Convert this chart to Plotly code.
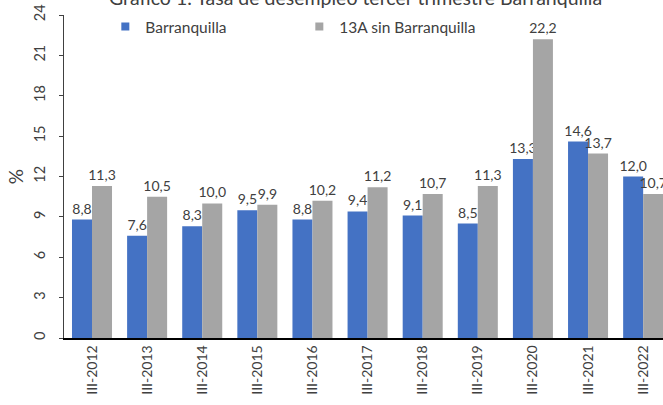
import plotly.graph_objects as go

categories = ["III-2012", "III-2013", "III-2014", "III-2015", "III-2016", "III-2017",
              "III-2018", "III-2019", "III-2020", "III-2021", "III-2022"]
barranquilla = [8.8, 7.6, 8.3, 9.5, 8.8, 9.4, 9.1, 8.5, 13.3, 14.6, 12.0]
trece_a = [11.3, 10.5, 10.0, 9.9, 10.2, 11.2, 10.7, 11.3, 22.2, 13.7, 10.7]
y_ticks = [0, 3, 6, 9, 12, 15, 18, 21, 24]
series_names = ["Barranquilla", "13A sin Barranquilla"]
series_colors = ["#4472C4", "#A5A5A5"]

FONT = "Lato"
fig = go.Figure()
for name, vals, col in zip(series_names, [barranquilla, trece_a], series_colors):
    fig.add_trace(go.Bar(
        x=categories, y=vals, name=name, showlegend=False,
        marker=dict(color=col, line=dict(width=0)),
        texttemplate="%{y:.1f}", textposition="outside", cliponaxis=False,
        constraintext="none",
        textfont=dict(size=14, color="#404040", family=FONT),
    ))
# legend entries with small square symbols
for name, col in zip(series_names, series_colors):
    fig.add_trace(go.Scatter(
        x=[None], y=[None], mode="markers", name=name,
        marker=dict(symbol="square", size=8, color=col),
    ))

fig.update_layout(
    width=663, height=405,
    margin=dict(l=64, r=0, t=15, b=67),
    paper_bgcolor="white", plot_bgcolor="white",
    separators=",.",
    barmode="group", bargap=0.274, bargroupgap=0,
    font=dict(family=FONT, color="#404040"),
    showlegend=True,
    legend=dict(orientation="h", x=0.069, y=0.963, xanchor="left", yanchor="middle",
                font=dict(size=15.5, color="#404040", family=FONT),
                entrywidth=149, entrywidthmode="pixels", tracegroupgap=0,
                itemwidth=30,
                bgcolor="rgba(0,0,0,0)"),
    xaxis=dict(range=[-0.508, 10.36], showline=True, linecolor="#000000", linewidth=1.5,
               ticks="", tickangle=-90, automargin=False,
               tickfont=dict(size=14, color="#404040", family=FONT),
               showgrid=False, fixedrange=True),
    yaxis=dict(range=[0, 24], tickvals=y_ticks, showline=True, linecolor="#404040",
               linewidth=1, ticks="outside", ticklen=4, tickcolor="#404040",
               tickangle=-90, automargin=False, ticklabelstandoff=8,
               tickfont=dict(size=14.5, color="#404040", family=FONT),
               showgrid=False, zeroline=False,
               title=dict(text="%", font=dict(size=19, color="#404040", family=FONT), standoff=2)),
    annotations=[dict(text="Gráfico 1. Tasa de desempleo tercer trimestre Barranquilla",
                      xref="paper", yref="paper", x=0.487, y=1.012, xanchor="center",
                      yanchor="bottom", showarrow=False,
                      font=dict(size=19.5, color="#404040", family=FONT))],
)

fig.write_html("out.html", config={"displayModeBar": False},
               post_script="document.body.style.margin='0';document.body.style.overflow='hidden';")
